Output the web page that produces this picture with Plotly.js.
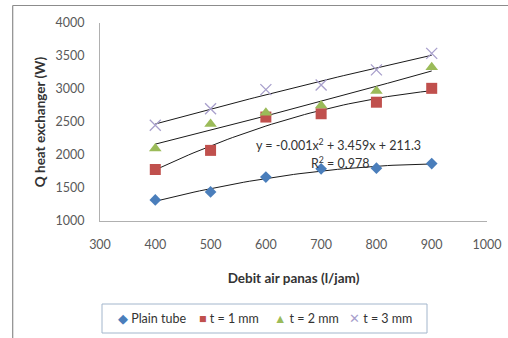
<!DOCTYPE html>
<html><head><meta charset="utf-8">
<script src="https://cdn.plot.ly/plotly-3.0.1.min.js"></script>
<style>html,body{margin:0;padding:0;background:#fff}#chart{width:508px;height:338px}</style>
</head><body><div id="chart"></div>
<script>
const debit = [400, 500, 600, 700, 800, 900];
const plainTube = [1320, 1440, 1665, 1790, 1800, 1870];
const t1mm = [1780, 2070, 2575, 2625, 2800, 3010];
const t2mm = [2100, 2470, 2640, 2750, 2970, 3330];
const t3mm = [2450, 2700, 2990, 3060, 3290, 3540];
const seriesNames = ['Plain tube', 't = 1 mm', 't = 2 mm', 't = 3 mm'];
const xTicks = [300, 400, 500, 600, 700, 800, 900, 1000];
const yTicks = [1000, 1500, 2000, 2500, 3000, 3500, 4000];

const colors = ['#4a7ebb', '#c0504d', '#9bbb59', '#a89fcc'];
const symbols = ['diamond', 'square', 'triangle-up', 'x-thin-open'];
const sizes = [9, 11, 11, 11];
const allY = [plainTube, t1mm, t2mm, t3mm];

function polyfit2(xs, ys) {
  let S = [0,0,0,0,0], T = [0,0,0];
  for (let i = 0; i < xs.length; i++) {
    let p = 1;
    for (let k = 0; k < 5; k++) { S[k] += p; if (k < 3) T[k] += p * ys[i]; p *= xs[i]; }
  }
  const A = [[S[0],S[1],S[2],T[0]],[S[1],S[2],S[3],T[1]],[S[2],S[3],S[4],T[2]]];
  for (let c = 0; c < 3; c++) {
    for (let r = c+1; r < 3; r++) {
      const f = A[r][c] / A[c][c];
      for (let k = c; k < 4; k++) A[r][k] -= f * A[c][k];
    }
  }
  const b = [0,0,0];
  for (let r = 2; r >= 0; r--) {
    let s = A[r][3];
    for (let k = r+1; k < 3; k++) s -= A[r][k] * b[k];
    b[r] = s / A[r][r];
  }
  return b;
}

const traces = [];
allY.forEach((ys, i) => {
  const b = polyfit2(debit, ys);
  const xs = [], yf = [];
  const x0 = debit[0], x1 = debit[debit.length-1];
  for (let j = 0; j <= 50; j++) { const x = x0 + (x1-x0)*j/50; xs.push(x); yf.push(b[0] + b[1]*x + b[2]*x*x); }
  traces.push({x: xs, y: yf, mode: 'lines', line: {color: '#1a1a1a', width: 1}, showlegend: false, hoverinfo: 'skip'});
});
allY.forEach((ys, i) => {
  traces.push({x: debit, y: ys, mode: 'markers', name: seriesNames[i],
    marker: {symbol: symbols[i], size: sizes[i], color: colors[i], line: {color: colors[i], width: i === 3 ? 1.3 : 0}}});
});

const L = 100, R = 487, T = 23, B = 221;
const px = v => (v - L) / (R - L);
const py = v => (B - v) / (B - T);

const legSym = ['◆', '■', '▲', '✕'];
const legX = [116, 197, 272, 347];
const annotations = [
  {xref: 'paper', yref: 'paper', x: px(338), y: py(155), text: 'y = -0.001x<sup>2</sup> + 3.459x + 211.3', showarrow: false, font: {family: 'Lato, sans-serif', size: 12.5, color: '#333'}},
  {xref: 'paper', yref: 'paper', x: px(340), y: py(173), text: 'R<sup>2</sup> = 0.978', showarrow: false, font: {family: 'Lato, sans-serif', size: 12.5, color: '#333'}}
];
seriesNames.forEach((n, i) => {
  annotations.push({xref: 'paper', yref: 'paper', x: px(legX[i]), y: py(318), xanchor: 'left', yanchor: 'middle',
    text: '<span style="color:' + colors[i] + '">' + legSym[i] + '</span> ' + n, showarrow: false,
    font: {family: 'Lato, sans-serif', size: 12.5, color: '#333'}});
});

const layout = {
  width: 508, height: 338,
  margin: {l: L, r: 508 - R, t: T, b: 338 - B},
  paper_bgcolor: '#fff', plot_bgcolor: '#fff',
  showlegend: false,
  font: {family: 'Lato, sans-serif', color: '#595959', size: 12.5},
  xaxis: {range: [300, 1000], tickvals: xTicks, ticktext: xTicks.map(String), showgrid: false, zeroline: false,
    showline: true, linecolor: '#b0b0b0', linewidth: 1, ticks: '', ticklabelstandoff: 12,
    title: {text: '<b>Debit air panas (l/jam)</b>', font: {size: 13.5, color: '#333'}, standoff: 22}},
  yaxis: {range: [1000, 4000], tickvals: yTicks, ticktext: yTicks.map(String), showgrid: false, zeroline: false,
    showline: true, linecolor: '#b0b0b0', linewidth: 1, ticks: '', ticklabelstandoff: 12,
    title: {text: '<b>Q heat exchanger (W)</b>', font: {size: 13.5, color: '#333'}, standoff: 6}},
  shapes: [
    {type: 'line', xref: 'paper', yref: 'paper', x0: px(12.7), x1: px(510), y0: py(5.5), y1: py(5.5), line: {color: '#8c8c8c', width: 1.2}},
    {type: 'line', xref: 'paper', yref: 'paper', x0: px(12.7), x1: px(12.7), y0: py(5.5), y1: py(340), line: {color: '#8c8c8c', width: 1.2}},
    {type: 'rect', xref: 'paper', yref: 'paper', x0: px(102), x1: px(427), y0: py(304), y1: py(333), line: {color: '#a3b6cc', width: 1}}
  ],
  annotations: annotations
};
Plotly.newPlot('chart', traces, layout, {displayModeBar: false, staticPlot: true});
</script></body></html>
